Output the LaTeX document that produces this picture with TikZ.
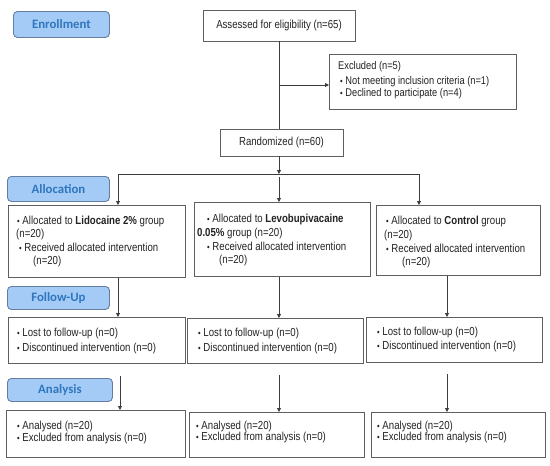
\documentclass[tikz,border=0pt]{standalone}
\usepackage{fontspec}
\setmainfont{Liberation Sans}[FakeStretch=0.83]
\newfontfamily\labfont{Carlito}
\usetikzlibrary{arrows.meta}
\definecolor{labfill}{RGB}{163,203,246}
\definecolor{labdraw}{RGB}{100,125,160}
\definecolor{labtext}{RGB}{48,118,190}
\definecolor{boxline}{RGB}{95,95,95}
\definecolor{conline}{RGB}{60,60,60}
\definecolor{txt}{RGB}{35,35,35}
\newcommand{\bul}{{\fontsize{9}{9}\selectfont\textbullet}\ }
\tikzset{
  stagelab/.style={draw=labdraw, line width=0.9pt, fill=labfill, rounded corners=4pt,
    anchor=north west, inner sep=0pt, text=labtext,
    font=\labfont\bfseries\fontsize{12.8}{14}\selectfont},
  boxnode/.style={draw=boxline, line width=0.8pt, fill=white, anchor=north west, inner sep=0pt},
  cbox/.style={draw=boxline, line width=0.8pt, fill=white, inner sep=0pt, text=txt,
    font=\fontsize{11.6}{13}\selectfont},
  ln/.style={anchor=base west, inner sep=0pt, text=txt, font=\fontsize{11.6}{13}\selectfont},
  lnx/.style={anchor=base west, inner sep=0pt, text=txt, font=\fontsize{11.2}{13}\selectfont},
  conn/.style={draw=conline, line width=0.8pt},
  arr/.style={conn, -{Triangle[length=4pt,width=4pt]}}
}
\begin{document}
\begin{tikzpicture}[x=1pt,y=-1pt]
\useasboundingbox (0,0) rectangle (550,466);
% stage labels
\node[stagelab, minimum width=96pt, minimum height=26pt] (lenr) at (13,11) {Enrollment};
\node[stagelab, minimum width=102pt, minimum height=25pt] (lall) at (7,176) {Allocation};
\node[stagelab, minimum width=102pt, minimum height=23pt] (lfol) at (7,286) {Follow-Up};
\node[stagelab, minimum width=105pt, minimum height=23pt] (lana) at (7,378) {Analysis};
% enrollment
\node[cbox, minimum width=152pt, minimum height=31pt] (ass) at (279,25.5) {Assessed for eligibility (n=65)};
\node[boxnode, minimum width=187pt, minimum height=55pt] (exc) at (329,54) {};
\node[lnx] (exc1) at (338,69.5) {Excluded (n=5)};
\node[lnx] (exc2) at (340,84.5) {\bul Not meeting inclusion criteria (n=1)};
\node[lnx] (exc3) at (340,96.5) {\bul Declined to participate (n=4)};
\node[cbox, minimum width=123pt, minimum height=27pt] (rand) at (281.5,142.5) {Randomized (n=60)};
% allocation boxes
\node[boxnode, minimum width=177pt, minimum height=72pt] (g1) at (8,205) {};
\node[ln] (g1a) at (17,224.5) {\bul Allocated to \textbf{Lidocaine 2\%} group};
\node[ln] (g1b) at (16,237.5) {(n=20)};
\node[ln] (g1c) at (19,251.5) {\bul Received allocated intervention};
\node[ln] (g1d) at (33,264.5) {(n=20)};
\node[boxnode, minimum width=176pt, minimum height=74pt] (g2) at (194,202) {};
\node[ln] (g2a) at (207,222.5) {\bul Allocated to \textbf{Levobupivacaine}};
\node[ln] (g2b) at (197,236.5) {\textbf{0.05\%} group (n=20)};
\node[ln] (g2c) at (207,250.5) {\bul Received allocated intervention};
\node[ln] (g2d) at (219,263.5) {(n=20)};
\node[boxnode, minimum width=164pt, minimum height=70pt] (g3) at (376,205) {};
\node[ln] (g3a) at (386,224.5) {\bul Allocated to \textbf{Control} group};
\node[ln] (g3b) at (384,238.5) {(n=20)};
\node[ln] (g3c) at (386,252.5) {\bul Received allocated intervention};
\node[ln] (g3d) at (402,265.5) {(n=20)};
% follow-up boxes
\node[boxnode, minimum width=177pt, minimum height=46pt] (f1) at (8,317) {};
\node[ln] (f1a) at (17,336.5) {\bul Lost to follow-up (n=0)};
\node[ln] (f1b) at (17,351.5) {\bul Discontinued intervention (n=0)};
\node[boxnode, minimum width=176pt, minimum height=45pt] (f2) at (187,318) {};
\node[ln] (f2a) at (198,336.5) {\bul Lost to follow-up (n=0)};
\node[ln] (f2b) at (198,351.5) {\bul Discontinued intervention (n=0)};
\node[boxnode, minimum width=176pt, minimum height=45pt] (f3) at (366,317) {};
\node[ln] (f3a) at (377,335.5) {\bul Lost to follow-up (n=0)};
\node[ln] (f3b) at (377,349.5) {\bul Discontinued intervention (n=0)};
% analysis boxes
\node[boxnode, minimum width=179pt, minimum height=47pt] (an1) at (6,410) {};
\node[ln] (an1a) at (17,429.5) {\bul Analysed (n=20)};
\node[ln] (an1b) at (17,441.5) {\bul Excluded from analysis (n=0)};
\node[boxnode, minimum width=175pt, minimum height=45pt] (an2) at (189,412) {};
\node[ln] (an2a) at (196,429.5) {\bul Analysed (n=20)};
\node[ln] (an2b) at (196,440.5) {\bul Excluded from analysis (n=0)};
\node[boxnode, minimum width=174pt, minimum height=45pt] (an3) at (371,412) {};
\node[ln] (an3a) at (377,429.5) {\bul Analysed (n=20)};
\node[ln] (an3b) at (377,440.5) {\bul Excluded from analysis (n=0)};
% connectors
\coordinate (exf) at (279,85);
\coordinate (hL) at (118,174);
\coordinate (hM) at (279,174);
\coordinate (hR) at (419,174);
\coordinate (mS) at (279,177);
\coordinate (a1) at (120,376);
\coordinate (a2) at (279,375);
\coordinate (a3) at (447,374);
\draw[conn] (ass.south -| exf) -- (rand.north -| exf);
\draw[arr] (exf) -- (exf -| exc.west);
\draw[arr] (rand.south -| hM) -- (hM);
\draw[conn] (hL) -- (hR);
\draw[arr] (hL) -- (hL |- g1.north);
\draw[arr] (mS) -- (mS |- g2.north);
\draw[arr] (hR) -- (hR |- g3.north);
\draw[arr] (hL |- g1.south) -- (hL |- f1.north);
\draw[arr] (mS |- g2.south) -- (mS |- f2.north);
\draw[arr] (a3 |- g3.south) -- (a3 |- f3.north);
\draw[arr] (a1) -- (a1 |- an1.north);
\draw[arr] (a2) -- (a2 |- an2.north);
\draw[arr] (a3) -- (a3 |- an3.north);
\end{tikzpicture}
\end{document}
